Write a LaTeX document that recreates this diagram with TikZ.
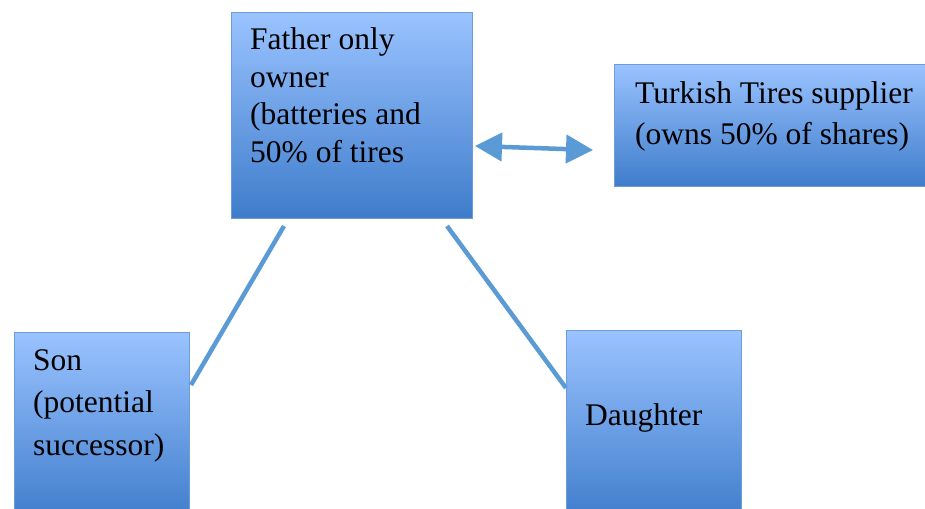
\documentclass[tikz,border=0pt]{standalone}
\usepackage{fontspec}
\setmainfont{Liberation Serif}
\usetikzlibrary{arrows.meta,calc}
\definecolor{boxtop}{HTML}{9AC3FF}
\definecolor{boxbot}{HTML}{3E7CCB}
\definecolor{boxedge}{HTML}{6B9DD8}
\definecolor{linkc}{HTML}{5B9BD5}
\tikzset{
  box/.style={rectangle, draw=boxedge, line width=1pt, top color=boxtop, bottom color=boxbot, inner sep=0, anchor=north west},
  txt/.style={anchor=base west, inner sep=0, text=black},
  link/.style={draw=linkc, line width=4.5pt},
}
\newcommand{\boxtext}[2]{\parbox[t]{10cm}{\fontsize{31.5}{#1}\selectfont\raggedright #2}}
\begin{document}
\begin{tikzpicture}[x=1pt,y=-1pt]
\useasboundingbox (0,0) rectangle (925,508);
\node[box, minimum width=241pt, minimum height=206pt] (father) at (231,12) {};
\node[box, minimum width=320pt, minimum height=122pt] (turk) at (614,64) {};
\node[box, minimum width=175pt, minimum height=190pt] (son) at (14,332) {};
\node[box, minimum width=175pt, minimum height=192pt] (daughter) at (566,330) {};
\node[txt] (fathert) at (250,50) {\boxtext{37.5}{Father only\\owner\\(batteries and\\50\% of tires}};
\node[txt] (turkt) at (635,103) {\boxtext{41}{Turkish Tires supplier\\(owns 50\% of shares)}};
\node[txt] (sont) at (33,370) {\boxtext{42.5}{Son\\(potential\\successor)}};
\node[txt] (daughtert) at (585,425) {\boxtext{39}{Daughter}};
\coordinate (fs1) at ($(father.south west)+(53,7)$);
\coordinate (fs2) at ($(father.south west)+(216,7)$);
\coordinate (se) at ($(son.north east)+(1,53)$);
\coordinate (dw) at ($(daughter.north west)+(0,58)$);
\coordinate (a1) at ($(father.north east)+(2,134)$);
\coordinate (a2) at ($(turk.north west)+(-21,86)$);
\draw[link] (se) -- (fs1);
\draw[link] (dw) -- (fs2);
\draw[link, {Triangle[length=27pt 0 0,width=28pt 0 0]}-{Triangle[length=27pt 0 0,width=28pt 0 0]}] (a1) -- (a2);
\end{tikzpicture}
\end{document}
